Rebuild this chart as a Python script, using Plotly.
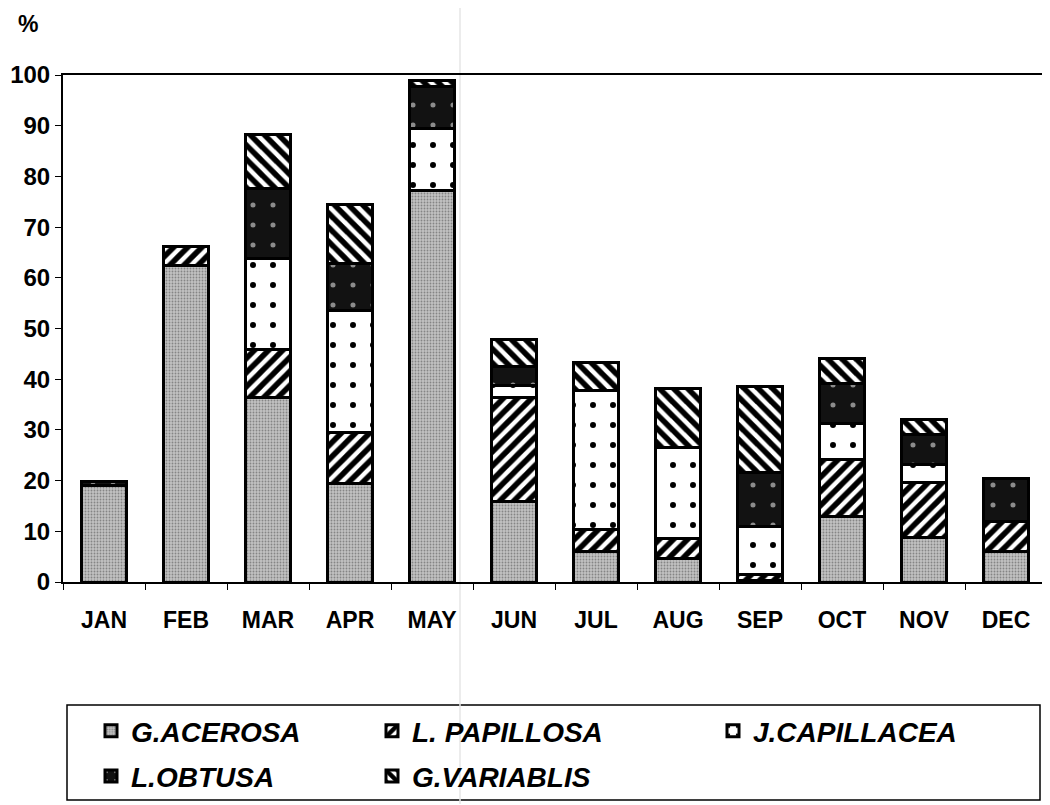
import plotly.graph_objects as go

months = ["JAN", "FEB", "MAR", "APR", "MAY", "JUN", "JUL", "AUG", "SEP", "OCT", "NOV", "DEC"]
g_acerosa   = [19.0, 62.5, 36.3, 19.5, 77.3, 15.8, 6.0, 4.7, 0.2, 13.0, 8.8, 6.1]
l_papillosa = [0, 3.6, 9.5, 9.9, 0, 20.6, 4.4, 3.9, 1.2, 11.1, 10.8, 5.9]
j_capillacea = [0, 0, 18.1, 24.2, 12.2, 2.3, 27.3, 18.0, 9.5, 7.2, 3.5, 0]
l_obtusa    = [0.9, 0, 13.8, 9.3, 8.3, 3.9, 0, 0, 10.7, 7.9, 5.9, 8.5]
g_variablis = [0, 0, 10.5, 11.5, 1.2, 5.3, 5.6, 11.6, 16.9, 4.8, 3.1, 0]
y_ticks = [0, 10, 20, 30, 40, 50, 60, 70, 80, 90, 100]

FONT = "Liberation Sans, Arial, sans-serif"
OFF = 8  # page body margin
W, H = 1042, 797
# target screen pixels: plot x 63..1047, y 75..582
L = 63 - OFF
R = W - (1047 - OFF)
T = 75 - OFF
B = H - (582 - OFF)
pw = W - L - R
ph = H - T - B


def px_x(x):
    return (x - OFF - L) / pw


def px_y(y):
    return (H - B - (y - OFF)) / ph


def nz(vals):
    return [v if v else None for v in vals]


series = [
    ("G.ACEROSA", g_acerosa, dict(color="#bdbdbd", pattern=dict(shape=".", fgcolor="#858585", bgcolor="#c2c2c2", size=3, solidity=0.3, fgopacity=1)), "legend"),
    ("L. PAPILLOSA", l_papillosa, dict(color="white", pattern=dict(shape="/", fgcolor="black", bgcolor="white", size=10, solidity=0.55, fgopacity=1)), "legend2"),
    ("J.CAPILLACEA", j_capillacea, dict(color="white", pattern=dict(shape=".", fgcolor="black", bgcolor="white", size=20, solidity=0.07, fgopacity=1)), "legend3"),
    ("L.OBTUSA", l_obtusa, dict(color="#121212", pattern=dict(shape=".", fgcolor="#8c8c8c", bgcolor="#121212", size=20, solidity=0.05, fgopacity=1)), "legend"),
    ("G.VARIABLIS", g_variablis, dict(color="white", pattern=dict(shape="\\", fgcolor="black", bgcolor="white", size=10, solidity=0.55, fgopacity=1)), "legend2"),
]

fig = go.Figure()
for i, (name, vals, mk, lg) in enumerate(series):
    mk = dict(mk)
    mk["line"] = dict(color="black", width=3)
    fig.add_trace(go.Bar(
        x=months, y=nz(vals), name=name, marker=mk, width=0.56,
        legend=lg, legendgroup=name,
    ))

legend_font = dict(family=FONT, size=28, color="black", style="italic", weight="bold")


def leg(xpx, ypx):
    return dict(
        xref="paper", yref="paper", x=px_x(xpx), y=px_y(ypx),
        xanchor="left", yanchor="top", orientation="v",
        font=legend_font, bgcolor="rgba(0,0,0,0)", borderwidth=0,
        tracegroupgap=6, itemwidth=30, traceorder="grouped",
    )


fig.update_layout(
    width=W, height=H,
    margin=dict(l=L, r=R, t=T, b=B, autoexpand=False),
    paper_bgcolor="white", plot_bgcolor="white",
    barmode="stack",
    showlegend=True,
    legend=leg(91, 706),
    legend2=leg(372, 706),
    legend3=leg(713, 706),
    xaxis=dict(
        categoryorder="array", categoryarray=months,
        showline=True, linecolor="black", linewidth=2, mirror=True,
        ticks="outside", ticklen=6, tickwidth=1, tickcolor="black",
        tickson="boundaries", showgrid=False, automargin=False,
        ticklabelstandoff=16,
        tickfont=dict(family=FONT, size=23, color="black", weight="bold"),
    ),
    yaxis=dict(
        range=[0, 100], tickvals=y_ticks, ticktext=[str(v) for v in y_ticks],
        showline=True, linecolor="black", linewidth=2, mirror=True,
        ticks="outside", ticklen=6, tickwidth=1, tickcolor="black",
        showgrid=False, zeroline=False, automargin=False,
        tickfont=dict(family=FONT, size=24, color="black", weight="bold"),
    ),
    annotations=[
        dict(text="%", xref="paper", yref="paper", x=px_x(28), y=px_y(24),
             showarrow=False, xanchor="center", yanchor="middle",
             font=dict(family=FONT, size=23, color="black", weight="bold")),
    ],
)

fig.add_shape(type="rect", xref="paper", yref="paper",
              x0=px_x(67), x1=px_x(1040), y0=px_y(800), y1=px_y(705),
              line=dict(color="black", width=1.5), fillcolor="rgba(0,0,0,0)", layer="below")
fig.add_shape(type="line", xref="paper", yref="paper",
              x0=px_x(460), x1=px_x(460), y0=px_y(804), y1=px_y(8),
              line=dict(color="#e6e6e6", width=1.5), layer="below")

fig.write_html("out.html")
